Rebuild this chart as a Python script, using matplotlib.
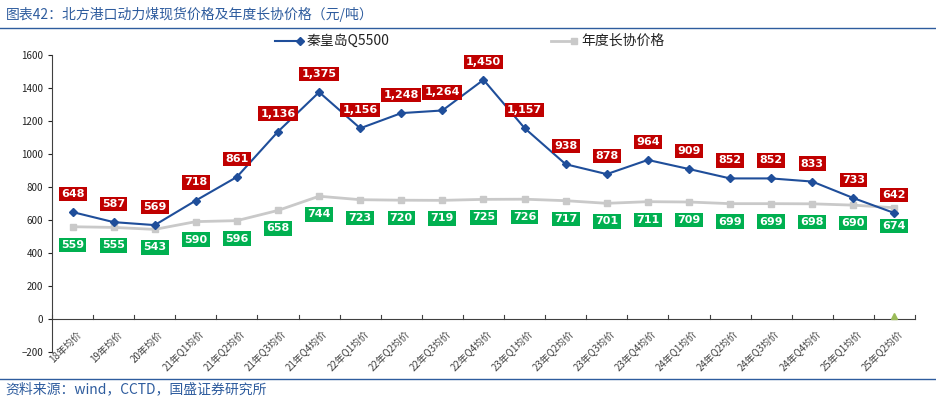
import matplotlib
matplotlib.use("Agg")
import matplotlib.pyplot as plt

plt.rcParams['font.family'] = ['Noto Sans CJK SC', 'DejaVu Sans']

# categories and series
periods = ['18年均价', '19年均价', '20年均价', '21年Q1均价', '21年Q2均价', '21年Q3均价',
           '21年Q4均价', '22年Q1均价', '22年Q2均价', '22年Q3均价', '22年Q4均价',
           '23年Q1均价', '23年Q2均价', '23年Q3均价', '23年Q4均价', '24年Q1均价',
           '24年Q2均价', '24年Q3均价', '24年Q4均价', '25年Q1均价', '25年Q2均价']
spot_q5500 = [648, 587, 569, 718, 861, 1136, 1375, 1156, 1248, 1264, 1450,
              1157, 938, 878, 964, 909, 852, 852, 833, 733, 642]
long_term = [559, 555, 543, 590, 596, 658, 744, 723, 720, 719, 725,
             726, 717, 701, 711, 709, 699, 699, 698, 690, 674]
stray_idx = [20]
stray_val = [15]

blue = '#1F4E9A'
grey = '#C9C9C9'
title_blue = '#2E5C9E'

fig = plt.figure(figsize=(9.37, 3.99), dpi=100)
ax = fig.add_axes([0.0555, 0.118, 0.921, 0.744])

x = list(range(len(periods)))
ax.plot(x, long_term, color=grey, lw=2, marker='s', ms=5, zorder=2)
ax.plot(x, spot_q5500, color=blue, lw=1.5, marker='D', ms=4, zorder=3)
ax.plot(stray_idx, stray_val, ls='none', marker='^', ms=5, color='#9BBB59',
        clip_on=False, zorder=4)

for i, v in enumerate(spot_q5500):
    ax.annotate(f'{v:,}', (i, v), xytext=(0, 13), textcoords='offset points',
                ha='center', va='center', fontsize=8, color='white', fontweight='bold',
                family='DejaVu Sans',
                bbox=dict(boxstyle='square,pad=0.2', fc='#C00000', ec='none'), zorder=5)
for i, v in enumerate(long_term):
    ax.annotate(f'{v:,}', (i, v), xytext=(0, -13), textcoords='offset points',
                ha='center', va='center', fontsize=8, color='white', fontweight='bold',
                family='DejaVu Sans',
                bbox=dict(boxstyle='square,pad=0.2', fc='#00B050', ec='none'), zorder=5)

ax.set_xlim(-0.5, len(periods) - 0.5)
ax.set_ylim(-200, 1600)
ax.set_yticks(range(-200, 1601, 200))
ax.tick_params(axis='y', labelsize=7, length=3, colors='#222222')
ax.tick_params(axis='x', length=0)

# excel style category axis at zero
ax.spines['top'].set_visible(False)
ax.spines['right'].set_visible(False)
ax.spines['bottom'].set_position(('data', 0))
ax.spines['bottom'].set_color('#404040')
ax.spines['left'].set_color('#404040')
ax.set_xticks(x)
ax.set_xticklabels([])
for b in range(len(periods) + 1):
    ax.plot([b - 0.5, b - 0.5], [0, 25], color='#404040', lw=0.8, clip_on=False)
for i, lab in enumerate(periods):
    ax.text(i + 0.08, -60, lab, rotation=45, ha='right', va='top', fontsize=7,
            color='#404040', rotation_mode='anchor')

# legend
fig.lines.append(plt.Line2D([0.293, 0.320], [0.898, 0.898], color=blue, lw=1.5,
                            marker='D', ms=4, markevery=[1], transform=fig.transFigure))
fig.text(0.327, 0.898, '秦皇岛Q5500', fontsize=10, va='center', color='#222222')
fig.lines.append(plt.Line2D([0.588, 0.613], [0.898, 0.898], color=grey, lw=2,
                            marker='s', ms=5, markevery=[1], transform=fig.transFigure))
fig.text(0.62, 0.898, '年度长协价格', fontsize=10, va='center', color='#222222')

# title and source with rules
fig.text(0.006, 0.965, '图表42：北方港口动力煤现货价格及年度长协价格（元/吨）', fontsize=10,
         color=title_blue, style='italic', va='center')
fig.lines.append(plt.Line2D([0, 1], [0.93, 0.93], color=title_blue, lw=1,
                            transform=fig.transFigure))
fig.lines.append(plt.Line2D([0, 1], [0.05, 0.05], color=title_blue, lw=1,
                            transform=fig.transFigure))
fig.text(0.006, 0.024, '资料来源：wind，CCTD，国盛证券研究所', fontsize=10,
         color=title_blue, style='italic', va='center')

fig.savefig('out.png', dpi=100)
